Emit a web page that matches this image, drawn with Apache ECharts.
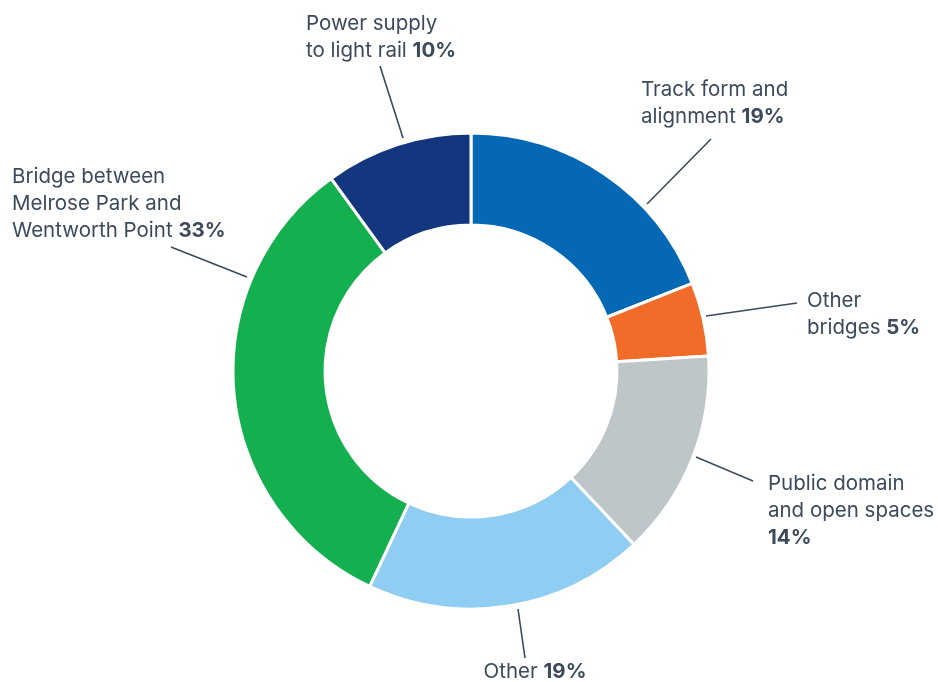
<!DOCTYPE html>
<html>
<head>
<meta charset="utf-8">
<script src="https://cdn.jsdelivr.net/npm/echarts@6/dist/echarts.min.js"></script>
<style>
  html, body { margin: 0; padding: 0; background: #fff; }
  #chart { width: 938px; height: 682px; }
</style>
</head>
<body>
<div id="chart"></div>
<script>
// data
const categories = [
  'Track form and\nalignment',
  'Other\nbridges',
  'Public domain\nand open spaces',
  'Other',
  'Bridge between\nMelrose Park and\nWentworth Point',
  'Power supply\nto light rail'
];
const shares = [19, 5, 14, 19, 33, 10];
const colors = ['#0468b4', '#f26c29', '#bfc6ca', '#90cdf2', '#14b04f', '#13377f'];

// where each label sits and where its leader line runs (annotation layout only)
const labelSpots = [
  { x: 641, y: 103, align: 'left',   line: [[647, 204], [711, 139]] },
  { x: 807, y: 314, align: 'left',   line: [[706, 316], [797, 303]] },
  { x: 768, y: 511, align: 'left',   line: [[696, 457], [753, 481]] },
  { x: 535, y: 672, align: 'center', line: [[518, 609], [525, 658]] },
  { x: 12,  y: 204, align: 'left',   line: [[247, 277], [171, 247]] },
  { x: 306, y: 37,  align: 'left',   line: [[403, 138], [380, 66]] }
];

const textColor = '#3c4a5c';
const fontName = 'Inter';
const chart = echarts.init(document.getElementById('chart'));

const option = {
  animation: false,
  series: [{
    type: 'pie',
    center: [471, 371],
    radius: [146, 238],
    startAngle: 90,
    clockwise: true,
    itemStyle: { borderColor: '#fff', borderWidth: 3 },
    label: {
      show: true,
      position: 'outside',
      color: textColor,
      fontFamily: fontName,
      fontSize: 20.5,
      lineHeight: 27,
      overflow: 'none',
      formatter: function (p) {
        // the 14% label breaks onto its own line
        const sep = p.dataIndex === 2 ? '\n' : ' ';
        return '{n|' + p.name + sep + '}{b|' + p.value + '%}';
      },
      rich: {
        n: { color: textColor, fontFamily: fontName, fontSize: 20.5, lineHeight: 27 },
        b: { color: textColor, fontFamily: fontName, fontSize: 20.5, lineHeight: 27, fontWeight: 'bold' }
      }
    },
    labelLine: {
      show: true,
      length: 20,
      length2: 0,
      lineStyle: { color: textColor, width: 1.6 }
    },
    labelLayout: function (params) {
      const s = labelSpots[params.dataIndex];
      return {
        x: s.x,
        y: s.y,
        align: s.align,
        verticalAlign: 'middle',
        labelLinePoints: s.line
      };
    },
    data: categories.map((name, i) => ({
      name: name,
      value: shares[i],
      itemStyle: { color: colors[i] }
    }))
  }]
};

chart.setOption(option);
</script>
</body>
</html>
